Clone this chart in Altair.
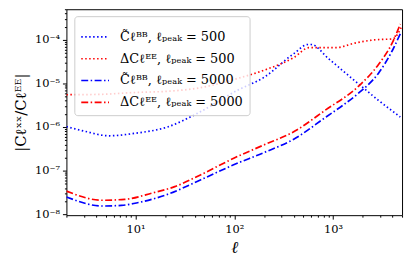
import altair as alt
import pandas as pd

# ---- data ----
names = [
    "C\u0303\u2113\u1d2e\u1d2e, \u2113\u209a\u2091\u2090\u2096 = 500",
    "\u0394C\u2113\u1d31\u1d31, \u2113\u209a\u2091\u2090\u2096 = 500",
    "C\u0303\u2113\u1d2e\u1d2e, \u2113\u209a\u2091\u2090\u2096 = 5000",
    "\u0394C\u2113\u1d31\u1d31, \u2113\u209a\u2091\u2090\u2096 = 5000",
]

ell_bb500 = [2, 3, 5.4, 10, 21, 43, 107, 200, 400, 560, 600, 900, 1350, 2000, 2880, 4800]
val_bb500 = [1.02e-6, 8.1e-7, 6.3e-7, 7.2e-7, 1.0e-6, 2.1e-6, 6.9e-6, 1.38e-5, 4.8e-5,
             7.8e-5, 7.8e-5, 3.7e-5, 1.7e-5, 8.1e-6, 4.1e-6, 1.7e-6]

ell_ee500 = [2, 4.3, 10, 21, 43, 107, 200, 400, 575, 1070, 1700, 2700, 4000, 5000]
val_ee500 = [5.5e-6, 5.6e-6, 6.2e-6, 6.6e-6, 7.8e-6, 1.29e-5, 2.0e-5, 3.9e-5, 6.6e-5,
             6.6e-5, 8.5e-5, 1.0e-4, 1.05e-4, 2.1e-4]

ell_bb5000 = [2, 4.6, 7.2, 10.7, 21, 46, 100, 200, 400, 850, 1260, 1800, 2900, 4000, 4800]
val_bb5000 = [2.5e-8, 1.55e-8, 1.6e-8, 1.86e-8, 2.85e-8, 6.2e-8, 1.38e-7, 2.6e-7, 5.25e-7,
              1.7e-6, 3.16e-6, 5.9e-6, 1.74e-5, 5.75e-5, 1.38e-4]

ell_ee5000 = [2, 4.6, 7.8, 15, 25, 46, 100, 200, 400, 850, 1800, 2900, 4000, 4800]
val_ee5000 = [3.4e-8, 2.1e-8, 2.2e-8, 3.1e-8, 4.3e-8, 8.1e-8, 1.95e-7, 3.9e-7, 7.8e-7, 2.5e-6,
              8.5e-6, 2.75e-5, 8.7e-5, 2.3e-4]

series = [(names[0], ell_bb500, val_bb500), (names[1], ell_ee500, val_ee500),
          (names[2], ell_bb5000, val_bb5000), (names[3], ell_ee5000, val_ee5000)]
rows = []
for s, xs, ys in series:
    for i, (a, b) in enumerate(zip(xs, ys)):
        rows.append({"series": s, "ell": a, "val": b, "order": i})
df = pd.DataFrame(rows)

colors = ["#0000ff", "#ff0000", "#0000ff", "#ff0000"]
dashes = [[1.5, 2.5], [1.5, 2.5], [7, 2.5, 1.5, 2.5], [7, 2.5, 1.5, 2.5]]

x_ticks = [m * 10 ** e for e in range(0, 4) for m in range(1, 10) if 2 <= m * 10 ** e <= 5000]
y_ticks = [m * 10.0 ** e for e in range(-8, -3) for m in range(1, 10)]
y_ticks = [v for v in y_ticks if v <= 5e-4]

font = "DejaVu Serif"
major_test = "abs(log(datum.value)/LN10 - round(log(datum.value)/LN10)) < 1e-6"

x_axis = alt.Axis(
    values=x_ticks, title="\u2113", titleFont=font, titleFontSize=17, titleFontWeight="normal",
    titleFontStyle="italic", titlePadding=4,
    labelExpr=f"{major_test} ? ['10\u2070','10\u00b9','10\u00b2','10\u00b3'][round(log(datum.value)/LN10)] : ''",
    labelFont=font, labelFontSize=11.5, labelColor="black", labelPadding=5,
    tickColor="black", tickSize={"condition": {"test": major_test, "value": 4}, "value": 2},
    domain=False, grid=False, labelFlush=False, labelOverlap=False,
)
y_axis = alt.Axis(
    values=y_ticks, title="|C\u2113\u02e3\u02e3/C\u2113\u1d31\u1d31|", titleFont=font, titleFontSize=15,
    titleFontWeight="normal", titleColor="black", titlePadding=6,
    labelExpr=f"{major_test} ? ['10\u207b\u2078','10\u207b\u2077','10\u207b\u2076','10\u207b\u2075','10\u207b\u2074'][round(log(datum.value)/LN10)+8] : ''",
    labelFont=font, labelFontSize=11.5, labelColor="black", labelPadding=3,
    tickColor="black", tickSize={"condition": {"test": major_test, "value": 4}, "value": 2},
    domain=False, grid=False, labelFlush=False, labelOverlap=False,
)

chart = alt.Chart(df).mark_line(strokeWidth=1.7, interpolate="monotone", clip=True).encode(
    x=alt.X("ell:Q", scale=alt.Scale(type="log", domain=[2, 5000], nice=False), axis=x_axis),
    y=alt.Y("val:Q", scale=alt.Scale(type="log", domain=[10 ** -8.02, 10 ** -3.30], nice=False), axis=y_axis),
    color=alt.Color("series:N", scale=alt.Scale(domain=names, range=colors),
                    legend=alt.Legend(title=None, orient="none", legendX=8, legendY=7,
                                      symbolType="stroke", symbolSize=784, symbolStrokeWidth=1.7,
                                      labelFont=font, labelFontSize=13, labelColor="black",
                                      labelLimit=300, labelOffset=10, rowPadding=-5,
                                      padding=6, fillColor="rgba(255,255,255,0.8)",
                                      strokeColor="#cccccc", cornerRadius=3)),
    strokeDash=alt.StrokeDash("series:N", scale=alt.Scale(domain=names, range=dashes), legend=None),
    order="order:Q",
).properties(
    width=339, height=208,
    autosize=alt.AutoSizeParams(type="none"),
    padding={"left": 59, "top": 0, "right": 5, "bottom": 40},
).configure_view(stroke="black", strokeWidth=1)

chart.save("out.html", embed_options={"renderer": "svg", "actions": False})
